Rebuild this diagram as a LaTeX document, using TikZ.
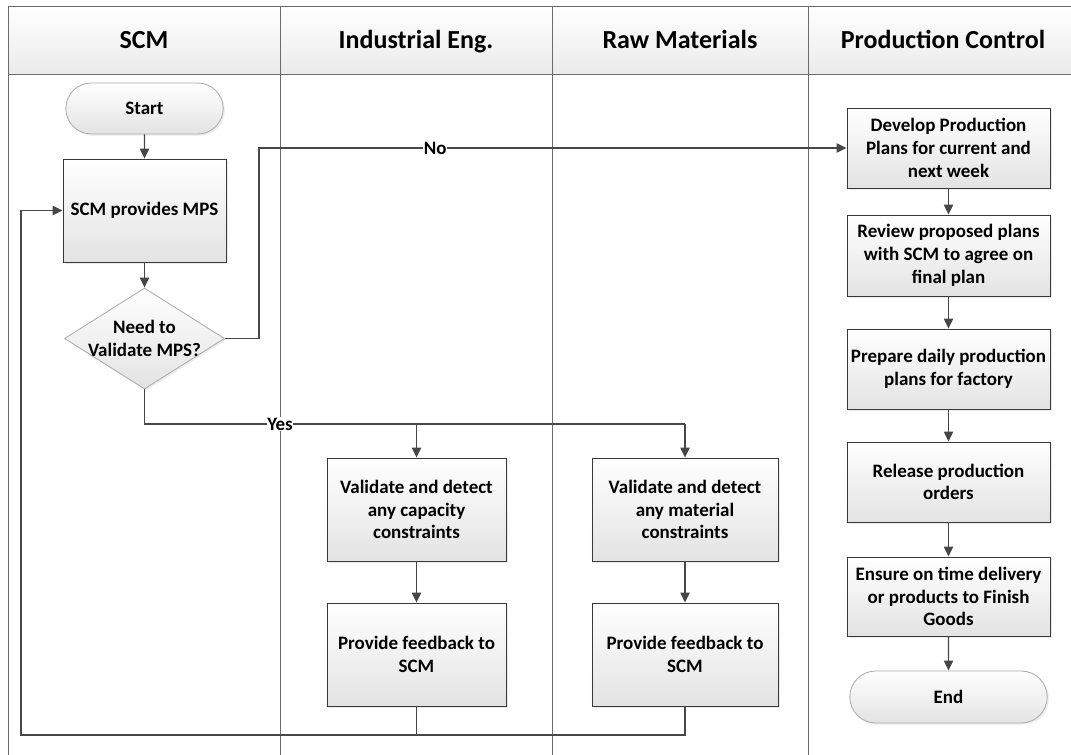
\documentclass[tikz,border=0pt]{standalone}
\usepackage{fontspec}
\setmainfont{Carlito}
\usetikzlibrary{arrows.meta,shapes.geometric,shapes.misc,shadows}

\tikzset{
  lane/.style={draw=gray!85!black, line width=0.6pt},
  boxtext/.style={font=\fontsize{13.5}{16.2}\selectfont\bfseries, align=center},
  process/.style={rectangle, draw=gray!45!black, line width=0.6pt,
    top color=white, bottom color=gray!22,
    drop shadow={opacity=0.15, shadow xshift=1.2pt, shadow yshift=-1.2pt},
    boxtext, inner sep=2pt},
  terminal/.style={process, rounded rectangle, draw=gray!65},
  decision/.style={process, diamond, draw=gray!65, inner sep=0pt},
  flow/.style={draw=black!72, line width=0.95pt, -{Triangle[length=7pt,width=6.5pt]}},
  link/.style={draw=black!72, line width=0.95pt},
  lbl/.style={boxtext, fill=white, inner sep=0.5pt},
  lanetitle/.style={font=\fontsize{18.5}{22}\selectfont\bfseries,
    text height=2ex, text depth=0.5ex}
}

\begin{document}
\begin{tikzpicture}[x=0.025cm, y=-0.025cm]

\useasboundingbox (0,0) rectangle (1071,755);

% swimlanes
\shade[top color=white, bottom color=gray!16] (8,6) rectangle (1071,74);
\draw[lane] (8,755) -- (8,6) -- (1071,6);
\draw[lane] (8,74) -- (1071,74);
\foreach \x in {280,552,808}
  \draw[lane] (\x,6) -- (\x,755);

\node[lanetitle] (scm-title) at (144,43) {SCM};
\node[lanetitle] (ie-title) at (416,43) {Industrial Eng.};
\node[lanetitle] (rm-title) at (680,43) {Raw Materials};
\node[lanetitle] (pc-title) at (943,43) {Production Control};

% SCM
\node[terminal, minimum width=4.075cm, minimum height=1.275cm] (start) at (144.5,108.5) {Start};
\node[process, minimum width=4.075cm, minimum height=2.575cm] (mps) at (144.5,210.5) {SCM provides MPS};
\node[decision, minimum width=4cm, minimum height=2.525cm,
  label={[boxtext]center:Need to\\Validate MPS?}] (decide) at (144.5,338.5) {};

% Industrial Eng.
\node[process, minimum width=4.475cm, minimum height=2.575cm] (check-ie) at (416.5,509.5) {Validate and detect\\any capacity\\constraints};
\node[process, minimum width=4.475cm, minimum height=2.575cm] (feedback-ie) at (416.5,654.5) {Provide feedback to\\SCM};

% Raw Materials
\node[process, minimum width=4.65cm, minimum height=2.575cm] (check-rm) at (685,509.5) {Validate and detect\\any material\\constraints};
\node[process, minimum width=4.65cm, minimum height=2.575cm] (feedback-rm) at (685,654.5) {Provide feedback to\\SCM};

% Production Control
\node[process, minimum width=5.075cm, minimum height=2cm] (develop) at (948.5,148) {Develop Production\\Plans for current and\\next week};
\node[process, minimum width=5.075cm, minimum height=2.025cm] (review) at (948.5,255.5) {Review proposed plans\\with SCM to agree on\\final plan};
\node[process, minimum width=5.075cm, minimum height=2cm] (prepare) at (948.5,369) {Prepare daily production\\plans for factory};
\node[process, minimum width=5.075cm, minimum height=2cm] (release) at (948.5,482) {Release production\\orders};
\node[process, minimum width=5.075cm, minimum height=1.975cm] (ensure) at (948.5,596.5) {Ensure on time delivery\\or products to Finish\\Goods};
\node[terminal, minimum width=5.075cm, minimum height=1.3cm] (end) at (948.5,697) {End};

\coordinate (no-turn) at (259,338.5);
\coordinate (yes-row) at (144.5,424);
\coordinate (loop-corner) at (21,735);

\draw[flow] (start) -- (mps);
\draw[flow] (mps) -- (decide);
\draw[flow] (decide.east) -- (no-turn) |- node[lbl, pos=0.65] (no-label) {No} (develop.west);
\draw[link] (decide.south) -- (yes-row) -- (yes-row -| check-rm.north);
\draw[flow] (yes-row -| check-ie.north) -- (check-ie.north);
\draw[flow] (yes-row -| check-rm.north) -- (check-rm.north);
\node[lbl] (yes-label) at (280,424) {Yes};

\draw[flow] (check-ie) -- (feedback-ie);
\draw[flow] (check-rm) -- (feedback-rm);
\draw[flow] (feedback-ie.south) |- (loop-corner) |- (mps.west);
\draw[link] (feedback-rm.south) |- (feedback-ie.south |- loop-corner);

\draw[flow] (develop) -- (review);
\draw[flow] (review) -- (prepare);
\draw[flow] (prepare) -- (release);
\draw[flow] (release) -- (ensure);
\draw[flow] (ensure) -- (end);

\end{tikzpicture}
\end{document}
